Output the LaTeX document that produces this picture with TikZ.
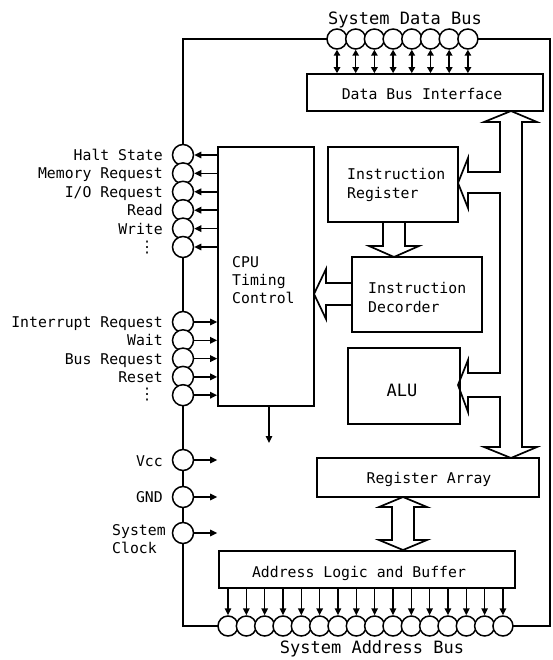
\documentclass[tikz,border=0pt]{standalone}
\usepackage{fontspec}
\setmonofont{DejaVu Sans Mono}
\newfontfamily\dvsans{DejaVu Sans}
\usetikzlibrary{arrows.meta}
\tikzset{
  ln/.style={line width=1.7pt},
  boxst/.style={draw, line width=1.7pt, rectangle, inner sep=0pt},
  pin/.style={draw, circle, fill=white, line width=1.5pt, minimum size=20pt, inner sep=0pt},
  lpin/.style={pin, minimum size=21pt},
  lbl/.style={font=\ttfamily\fontsize{14.8}{18}\selectfont, inner sep=0pt},
  big/.style={font=\ttfamily\fontsize{17}{20}\selectfont, inner sep=0pt},
  dots/.style={font=\dvsans\fontsize{16}{16}\selectfont, inner sep=0pt},
  sig/.style={line width=1.5pt, -{Triangle[length=7pt,width=6.5pt]}},
  dsig/.style={line width=1.5pt, {Triangle[length=6pt,width=6.5pt]}-{Triangle[length=6pt,width=6.5pt]}},
  blk/.style={draw, line width=1.7pt, line join=miter},
}
\begin{document}
\begin{tikzpicture}[x=1pt, y=-1pt]
\useasboundingbox (0,0) rectangle (553,660);
% outer border
\draw[ln] (183,39) rectangle (550,626);

% boxes
\node[boxst, minimum width=236pt, minimum height=37pt] (dbi) at (425,92.5) {};
\node[boxst, minimum width=96pt, minimum height=259pt] (cpu) at (266,276.5) {};
\node[boxst, minimum width=130pt, minimum height=75pt] (ir) at (393,184.5) {};
\node[boxst, minimum width=130pt, minimum height=75pt] (id) at (417,294.5) {};
\node[boxst, minimum width=112pt, minimum height=76pt] (alu) at (404,386) {};
\node[boxst, minimum width=222pt, minimum height=39pt] (ra) at (428,477.5) {};
\node[boxst, minimum width=296pt, minimum height=37pt] (alb) at (367,569.5) {};

% box texts
\node[lbl, anchor=base] (dbit) at (422,100) {Data Bus Interface};
\node[lbl, anchor=base west] (cpu1) at (232,267) {CPU};
\node[lbl, anchor=base west] (cpu2) at (232,285) {Timing};
\node[lbl, anchor=base west] (cpu3) at (232,303) {Control};
\node[lbl, anchor=base west] (ir1) at (347,180) {Instruction};
\node[lbl, anchor=base west] (ir2) at (347,198) {Register};
\node[lbl, anchor=base west] (id1) at (368,293) {Instruction};
\node[lbl, anchor=base west] (id2) at (368,312) {Decorder};
\node[big, anchor=base] (alut) at (402,396) {ALU};
\node[lbl, anchor=base] (rat) at (429,483) {Register Array};
\node[lbl, anchor=base] (albt) at (359,577) {Address Logic and Buffer};

% titles
\node[big, anchor=base] (sdb) at (405,25) {System Data Bus};
\node[big, anchor=base] (sab) at (372,653) {System Address Bus};

% data bus pins
\foreach \i in {0,...,7} {
  \node[pin] (d\i) at ({337+18.7*\i},39) {};
  \draw[dsig] (d\i.south) -- (d\i.south |- dbi.north);
}

% address bus pins
\foreach \i in {0,...,15} {
  \node[pin] (a\i) at ({228+18.33*\i},626) {};
  \draw[sig] (a\i.north |- alb.south) -- (a\i.north);
}

% output pins (left, upper group)
\foreach \y/\t [count=\k] in {155/Halt State,173.4/Memory Request,191.8/I{/}O Request,210.2/Read,228.6/Write} {
  \node[lpin] (o\k) at (183,\y) {};
  \draw[sig] (o\k.east -| cpu.west) -- (o\k.east);
  \node[lbl, anchor=base east] (ol\k) at (163,\y+5.5) {\t};
}
\node[lpin] (o6) at (183,247) {};
\draw[sig] (o6.east -| cpu.west) -- (o6.east);
\node[dots] (ol6) at (147,248) {⋮};

% input pins (left, lower group)
\foreach \y/\t [count=\k] in {322/Interrupt Request,340.3/Wait,358.6/Bus Request,376.9/Reset} {
  \node[lpin] (i\k) at (183,\y) {};
  \draw[sig] (i\k.east) -- (i\k.east -| cpu.west);
  \node[lbl, anchor=base east] (il\k) at (163,\y+5.5) {\t};
}
\node[lpin] (i5) at (183,395.2) {};
\draw[sig] (i5.east) -- (i5.east -| cpu.west);
\node[dots] (il5) at (147,395) {⋮};

% power / clock pins
\node[lpin] (vcc) at (183,460) {};
\draw[sig] (vcc.east) -- (vcc.east -| cpu.west);
\node[lbl, anchor=base east] (vccl) at (163,466) {Vcc};
\node[lpin] (gnd) at (183,497) {};
\draw[sig] (gnd.east) -- (gnd.east -| cpu.west);
\node[lbl, anchor=base east] (gndl) at (163,502.5) {GND};
\node[lpin] (clk) at (183,533) {};
\draw[sig] (clk.east) -- (clk.east -| cpu.west);
\node[lbl, anchor=base west] (clk1) at (112,535) {System};
\node[lbl, anchor=base west] (clk2) at (112,553) {Clock};

% CPU output arrow
\coordinate (cpuout) at (269,443);
\draw[sig] (cpuout |- cpu.south) -- (cpuout);

% block arrow IR -> ID
\draw[blk] (383,222) -- (383,246) -- (369,246) -- (394,257) -- (419,246) -- (405,246) -- (405,222);
% block arrow ID -> CPU
\draw[blk] (352,283) -- (326,283) -- (326,269) -- (314,294) -- (326,319) -- (326,305) -- (352,305);
% block arrow Register Array <-> Address Logic
\draw[blk] (392,507) -- (379,507) -- (403,497) -- (427,507) -- (414,507) -- (414,540) -- (427,540) -- (403,550) -- (379,540) -- (392,540) -- cycle;
% internal bus: DBI <-> Register Array, with branches to IR and ALU
\draw[blk] (511,111) -- (537,122) -- (522,122) -- (522,447) -- (537,447) -- (511,458) -- (484,447) -- (500,447)
  -- (500,397) -- (468,397) -- (468,412) -- (458,385) -- (468,360) -- (468,373) -- (500,373)
  -- (500,193) -- (468,193) -- (468,208) -- (458,183) -- (468,158) -- (468,172) -- (500,172)
  -- (500,122) -- (484,122) -- cycle;
\end{tikzpicture}
\end{document}
